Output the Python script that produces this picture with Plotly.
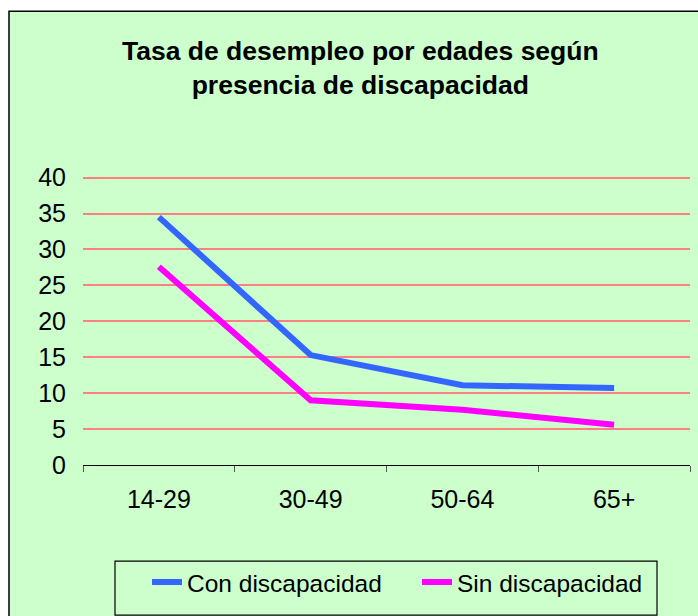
import plotly.graph_objects as go

categories = ["14-29", "30-49", "50-64", "65+"]
con_discapacidad = [34.5, 15.3, 11.1, 10.7]
sin_discapacidad = [27.6, 9.0, 7.7, 5.6]
y_ticks = [0, 5, 10, 15, 20, 25, 30, 35, 40]

W, H = 698, 616
Y_TOP = 40.5
L, R, B = 83, 690, 465
T = B - 287 * Y_TOP / 40
pw, ph = R - L, B - T

def px(x):
    return (x - L) / pw

def py(y):
    return (B - y) / ph

FONT = "Liberation Sans, Arial, sans-serif"
GREEN = "#CCFFCC"

fig = go.Figure()
fig.add_trace(go.Scatter(x=categories, y=con_discapacidad, mode="lines",
                         name="Con discapacidad",
                         line=dict(color="#3366FF", width=6)))
fig.add_trace(go.Scatter(x=categories, y=sin_discapacidad, mode="lines",
                         name="Sin discapacidad",
                         line=dict(color="#FF00FF", width=6)))

# chart frame
fig.add_shape(type="rect", xref="paper", yref="paper",
              x0=px(9), x1=px(705), y0=py(625), y1=py(12),
              fillcolor=GREEN, line=dict(color="#000000", width=1.5),
              layer="below")
# legend frame
fig.add_shape(type="rect", xref="paper", yref="paper",
              x0=px(115), x1=px(657), y0=py(615), y1=py(561),
              fillcolor="rgba(0,0,0,0)", line=dict(color="#000000", width=1.2),
              layer="above")

fig.add_annotation(text="<b>Tasa de desempleo por edades según<br>presencia de discapacidad</b>",
                   xref="paper", yref="paper", x=px(360), y=py(68.5),
                   xanchor="center", yanchor="middle", showarrow=False,
                   font=dict(family=FONT, size=26.5, color="#000000"))

fig.update_layout(
    width=W, height=H,
    margin=dict(l=L, r=W - R, t=T, b=H - B, pad=0),
    paper_bgcolor="#FFFFFF",
    plot_bgcolor="rgba(0,0,0,0)",
    font=dict(family=FONT, size=25, color="#000000"),
    showlegend=True,
    legend=dict(orientation="h", x=px(147), y=py(582), xanchor="left", yanchor="middle",
                bgcolor="rgba(0,0,0,0)", borderwidth=0,
                font=dict(family=FONT, size=24.5, color="#000000"),
                entrywidth=225, entrywidthmode="pixels",
                tracegroupgap=0),
    xaxis=dict(type="category", showgrid=False, showline=True, linecolor="#000000",
               linewidth=1, ticks="outside", tickson="boundaries", ticklen=6,
               tickcolor="#555555", ticklabelstandoff=12, zeroline=False,
               range=[-0.5, 3.5]),
    yaxis=dict(range=[0, Y_TOP], tickvals=y_ticks, showgrid=True, gridcolor="#FF8080",
               gridwidth=2, zeroline=False, showline=False, ticks="",
               ticklabelstandoff=16),
)

fig.write_html("out.html", config={"displayModeBar": False},
               post_script="document.body.style.margin='0';")
